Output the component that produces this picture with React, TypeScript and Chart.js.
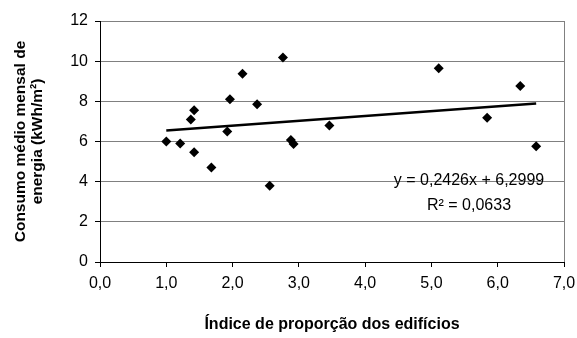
import React, { useEffect, useRef } from "react";
import { Chart, registerables } from "chart.js";

Chart.register(...registerables);

// Building aspect index (x) and mean monthly energy consumption in kWh/m² (y)
const indexValues = [1.0, 1.21, 1.37, 1.42, 1.42, 1.68, 1.92, 1.96, 2.15, 2.37, 2.56, 2.76, 2.88, 2.92, 3.46, 5.11, 5.84, 6.34, 6.58];
const consumption = [6.0, 5.9, 7.1, 7.56, 5.46, 4.71, 6.5, 8.1, 9.37, 7.86, 3.8, 10.18, 6.07, 5.87, 6.8, 9.65, 7.18, 8.76, 5.76];

// Linear trend reported on the chart
const trendSlope = 0.2426;
const trendIntercept = 6.2999;
const rSquared = 0.0633;

const xTicks = [0, 1, 2, 3, 4, 5, 6, 7];
const yTicks = [0, 2, 4, 6, 8, 10, 12];

const xTitle = "Índice de proporção dos edifícios";
const yTitle = ["Consumo médio mensal de", "energia (kWh/m²)"];

const FONT = "'Liberation Sans', Arial, sans-serif";

const fmt = (v: number, d: number) => v.toFixed(d).replace(".", ",");

export default function App() {
  const canvasRef = useRef<HTMLCanvasElement | null>(null);

  useEffect(() => {
    const canvas = canvasRef.current;
    if (!canvas) return;

    const points = indexValues.map((x, i) => ({ x, y: consumption[i] }));
    const xMin = Math.min(...indexValues);
    const xMax = Math.max(...indexValues);
    const trend = [
      { x: xMin, y: trendSlope * xMin + trendIntercept },
      { x: xMax, y: trendSlope * xMax + trendIntercept },
    ];

    // frame on the right side of the plot and the trend equation
    const decorations = {
      id: "decorations",
      afterDatasetsDraw(chart: any) {
        const { ctx, chartArea } = chart;
        ctx.save();
        ctx.strokeStyle = "#808080";
        ctx.lineWidth = 1;
        ctx.beginPath();
        ctx.moveTo(Math.round(chartArea.right) + 0.5, chartArea.top);
        ctx.lineTo(Math.round(chartArea.right) + 0.5, chartArea.bottom);
        ctx.stroke();

        ctx.fillStyle = "#000";
        ctx.font = `16px ${FONT}`;
        ctx.textAlign = "center";
        ctx.textBaseline = "middle";
        const cx = chartArea.right - 95;
        ctx.fillText(
          `y = ${fmt(trendSlope, 4)}x + ${fmt(trendIntercept, 4)}`,
          cx,
          chartArea.top + 160
        );
        ctx.fillText(`R² = ${fmt(rSquared, 4)}`, cx, chartArea.top + 185);
        ctx.restore();
      },
    };

    const chart = new Chart(canvas, {
      type: "scatter",
      data: {
        datasets: [
          {
            type: "line",
            data: trend,
            borderColor: "#000",
            borderWidth: 2.5,
            pointRadius: 0,
            fill: false,
            order: 2,
          } as any,
          {
            data: points,
            pointStyle: "rectRot",
            pointRadius: 5,
            backgroundColor: "#000",
            borderColor: "#000",
            borderWidth: 0,
            order: 1,
          },
        ],
      },
      options: {
        animation: false,
        responsive: false,
        layout: { padding: { top: 21, right: 13, left: 0, bottom: 0 } },
        plugins: {
          legend: { display: false },
          tooltip: { enabled: false },
        },
        scales: {
          x: {
            type: "linear",
            min: 0,
            max: 7,
            afterBuildTicks: (s: any) => {
              s.ticks = xTicks.map((v) => ({ value: v }));
            },
            afterFit: (s: any) => {
              s.height = 76;
              s.paddingLeft = 0;
              s.paddingRight = 0;
            },
            ticks: {
              color: "#000",
              font: { family: FONT, size: 16 },
              padding: 7,
              callback: (v: any) => fmt(Number(v), 1),
            },
            grid: {
              drawOnChartArea: false,
              drawTicks: true,
              tickLength: 5,
              tickColor: "#000",
            },
            border: { color: "#000", width: 1 },
            title: {
              display: true,
              text: xTitle,
              color: "#000",
              font: { family: FONT, size: 16, weight: "bold" },
              padding: { top: 4, bottom: 4 },
            },
          },
          y: {
            type: "linear",
            min: 0,
            max: 12,
            afterBuildTicks: (s: any) => {
              s.ticks = yTicks.map((v) => ({ value: v }));
            },
            afterFit: (s: any) => {
              s.width = 100;
            },
            ticks: {
              color: "#000",
              font: { family: FONT, size: 16 },
              padding: 7,
              callback: (v: any) => String(v),
            },
            grid: {
              color: "#808080",
              lineWidth: 1,
              drawTicks: true,
              tickLength: 5,
              tickColor: "#000",
            },
            border: { color: "#000", width: 1 },
            title: {
              display: true,
              text: yTitle,
              color: "#000",
              font: { family: FONT, size: 15.5, weight: "bold", lineHeight: 1.12 },
              padding: { top: 12, bottom: 4 },
            },
          },
        },
      },
      plugins: [decorations],
    });

    return () => chart.destroy();
  }, []);

  return (
    <div style={{ position: "fixed", left: 0, top: 0, width: 577, height: 338, background: "#fff" }}>
      <canvas ref={canvasRef} width={577} height={338} style={{ width: 577, height: 338, display: "block" }} />
    </div>
  );
}
